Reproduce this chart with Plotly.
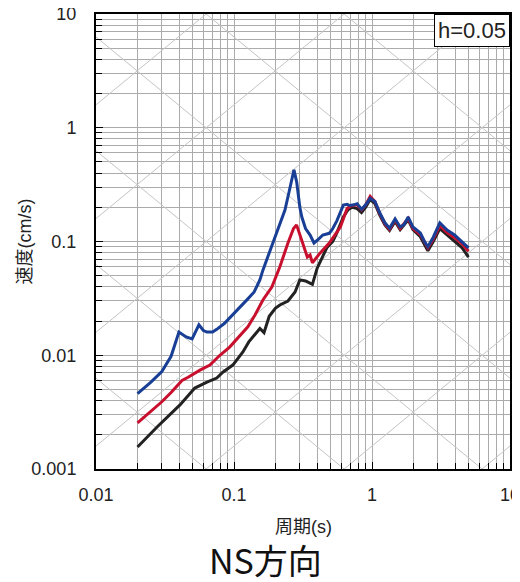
import numpy as np
import plotly.graph_objects as go

# ---------------- data (period s, pseudo velocity cm/s) ----------------
T_blue = [0.02, 0.025, 0.03, 0.035, 0.0399, 0.045, 0.0497, 0.0557, 0.06, 0.0637, 0.07, 0.075, 0.085,
          0.098, 0.11, 0.125, 0.14, 0.154, 0.162, 0.18, 0.205, 0.234, 0.255, 0.272, 0.285, 0.29, 0.30,
          0.31, 0.33, 0.356, 0.38, 0.41, 0.44, 0.49, 0.52, 0.556, 0.59, 0.62, 0.66, 0.69, 0.74, 0.78,
          0.84, 0.9, 0.97, 1.05, 1.14, 1.24, 1.34, 1.47, 1.6, 1.7, 1.83, 1.98, 2.24, 2.4, 2.54, 2.78,
          3.1, 3.5, 3.97, 4.5, 5.0]
V_blue = [0.0046, 0.0058, 0.0072, 0.0098, 0.016, 0.0145, 0.0139, 0.0185, 0.0165, 0.016, 0.016, 0.0169, 0.019,
          0.0226, 0.026, 0.031, 0.036, 0.046, 0.056, 0.08, 0.119, 0.189, 0.30, 0.426, 0.33, 0.267, 0.20,
          0.164, 0.13, 0.114, 0.097, 0.105, 0.114, 0.118, 0.13, 0.152, 0.18, 0.209, 0.212, 0.207, 0.21, 0.215,
          0.192, 0.21, 0.24, 0.225, 0.178, 0.146, 0.131, 0.158, 0.134, 0.14, 0.164, 0.134, 0.119, 0.10, 0.09, 0.109,
          0.146, 0.126, 0.114, 0.10, 0.088]

T_red = [0.02, 0.025, 0.03, 0.035, 0.042, 0.0465, 0.0567, 0.0669, 0.079, 0.093, 0.111, 0.126, 0.142,
         0.162, 0.188, 0.215, 0.246, 0.27, 0.284, 0.31, 0.34, 0.356, 0.37, 0.42, 0.49, 0.59, 0.66, 0.7,
         0.78, 0.84, 0.9, 0.97, 1.05, 1.14, 1.24, 1.34, 1.47, 1.6, 1.83, 1.98, 2.24, 2.54, 2.78, 3.1,
         3.5, 3.97, 4.5, 5.0]
V_red = [0.00254, 0.0032, 0.0039, 0.0047, 0.006, 0.0064, 0.0074, 0.0082, 0.010, 0.0118, 0.0151, 0.0178, 0.0226,
         0.0306, 0.0398, 0.060, 0.097, 0.13, 0.14, 0.10, 0.073, 0.076, 0.065, 0.079, 0.097, 0.134, 0.195, 0.205,
         0.21, 0.19, 0.21, 0.25, 0.225, 0.175, 0.143, 0.128, 0.155, 0.13, 0.16, 0.13, 0.115, 0.088, 0.105, 0.138,
         0.12, 0.108, 0.095, 0.082]

T_black = [0.02, 0.0277, 0.0406, 0.052, 0.0637, 0.075, 0.083, 0.098, 0.116, 0.128, 0.154, 0.165, 0.18,
           0.2, 0.215, 0.246, 0.277, 0.30, 0.33, 0.356, 0.37, 0.40, 0.47, 0.52, 0.556, 0.62, 0.67, 0.72,
           0.78, 0.84, 0.9, 0.97, 1.05, 1.14, 1.24, 1.34, 1.47, 1.6, 1.83, 1.98, 2.24, 2.54, 2.78, 3.1,
           3.5, 3.97, 4.5, 5.0]
V_black = [0.00156, 0.00234, 0.00366, 0.00515, 0.0058, 0.0063, 0.0071, 0.0082, 0.0107, 0.0131, 0.0172, 0.0158, 0.022,
           0.026, 0.0277, 0.030, 0.036, 0.046, 0.045, 0.043, 0.042, 0.058, 0.088, 0.10, 0.119, 0.164, 0.19, 0.20,
           0.195, 0.18, 0.20, 0.235, 0.215, 0.17, 0.14, 0.125, 0.15, 0.127, 0.155, 0.127, 0.11, 0.083, 0.10, 0.13,
           0.115, 0.10, 0.088, 0.073]

x_ticks = [0.01, 0.1, 1, 10]
x_ticktext = ["0.01", "0.1", "1", "10"]
y_ticks = [0.001, 0.01, 0.1, 1, 10]
y_ticktext = ["0.001", "0.01", "0.1", "1", "10"]

damping_label = "h=0.05"
x_title = "周期(s)"
y_title = "速度(cm/s)"
direction_label = "NS方向"

# ---------------- figure ----------------
fig = go.Figure()

# tripartite diagonal grid (acceleration & displacement decades)
grid_col = "#c4c4c4"
Tg = np.array([0.01, 10.0])
for k in range(-4, 6):
    a = 10.0 ** k
    fig.add_trace(go.Scatter(x=Tg, y=a * Tg / (2 * np.pi), mode="lines",
                             line=dict(color=grid_col, width=1), hoverinfo="skip", showlegend=False))
for k in range(-7, 3):
    d = 10.0 ** k
    fig.add_trace(go.Scatter(x=Tg, y=2 * np.pi * d / Tg, mode="lines",
                             line=dict(color=grid_col, width=1), hoverinfo="skip", showlegend=False))

for T, V, col in [(T_black, V_black, "#222222"), (T_red, V_red, "#c8102e"), (T_blue, V_blue, "#183f95")]:
    fig.add_trace(go.Scatter(x=T, y=V, mode="lines", line=dict(color=col, width=3),
                             showlegend=False))

def minor_vals(lo, hi):
    out = []
    for e in range(lo, hi):
        for m in range(2, 10):
            out.append(m * 10.0 ** e)
    return out

tick_font = dict(family="Liberation Sans, Arial, sans-serif", size=18, color="#222")
gcol = "#ababab"

fig.update_xaxes(type="log", range=[-2, 1], tickvals=x_ticks, ticktext=x_ticktext, automargin=False,
                 ticklabeloverflow="allow",
                 ticks="inside", ticklen=7, tickcolor="black", showgrid=True, gridcolor=gcol, gridwidth=1,
                 minor=dict(tickvals=minor_vals(-2, 1), ticks="inside", ticklen=6, tickcolor="black",
                            showgrid=True, gridcolor=gcol, gridwidth=1),
                 showline=True, linecolor="black", linewidth=2, mirror=True, tickfont=tick_font,
                 ticklabelstandoff=8, zeroline=False)
fig.update_yaxes(type="log", range=[-3, 1], tickvals=y_ticks, ticktext=y_ticktext, automargin=False,
                 ticklabeloverflow="allow",
                 ticks="inside", ticklen=7, tickcolor="black", showgrid=True, gridcolor=gcol, gridwidth=1,
                 minor=dict(tickvals=minor_vals(-3, 1), ticks="inside", ticklen=6, tickcolor="black",
                            showgrid=True, gridcolor=gcol, gridwidth=1),
                 showline=True, linecolor="black", linewidth=2, mirror=True, tickfont=tick_font,
                 ticklabelstandoff=14, zeroline=False)

fig.add_annotation(text=damping_label, xref="paper", yref="paper", x=1, y=1, xanchor="right", yanchor="top",
                   showarrow=False, bgcolor="white", bordercolor="black", borderwidth=1, borderpad=3,
                   font=dict(family="Liberation Sans, Arial, sans-serif", size=22, color="#222"))
fig.add_annotation(text=x_title, xref="paper", yref="paper", x=0.5, y=-0.128, xanchor="center", yanchor="middle",
                   showarrow=False, font=dict(family="Liberation Sans, Noto Sans CJK JP", size=18, color="#222"))
fig.add_annotation(text=y_title, xref="paper", yref="paper", x=-0.1715, y=0.5, xanchor="center", yanchor="middle",
                   textangle=-90, showarrow=False,
                   font=dict(family="Liberation Sans, Noto Sans CJK JP", size=18, color="#222"))
fig.add_annotation(text=direction_label, xref="paper", yref="paper", x=0.4106, y=-0.198, xanchor="center",
                   yanchor="middle", showarrow=False,
                   font=dict(family="Noto Sans CJK JP", size=34, color="#111"))

# page body adds an 8px offset; figure sized so the plot area lands at x 96-510, y 14-469
fig.update_layout(width=512, height=574, margin=dict(l=88, r=10, t=6, b=113),
                  plot_bgcolor="white", paper_bgcolor="white", showlegend=False)

fig.write_html("out.html")
